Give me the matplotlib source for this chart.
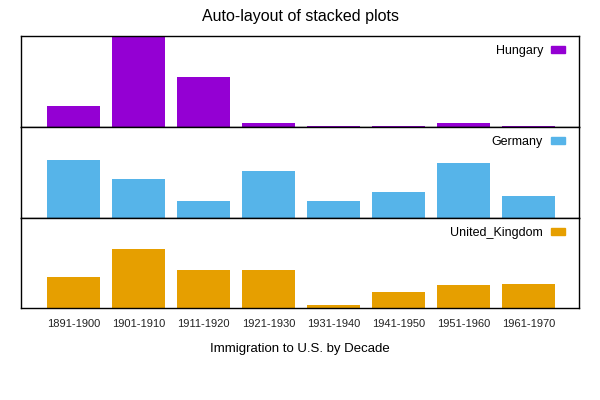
import matplotlib
matplotlib.use("Agg")
import matplotlib.pyplot as plt
from matplotlib.patches import Rectangle

plt.rcParams['font.family'] = ['Liberation Sans', 'DejaVu Sans']

decades = ["1891-1900", "1901-1910", "1911-1920", "1921-1930",
           "1931-1940", "1941-1950", "1951-1960", "1961-1970"]
hungary = [181288, 808511, 442693, 30680, 7861, 3469, 36637, 5401]
germany = [505152, 341498, 143945, 412202, 144058, 226578, 477765, 190796]
united_kingdom = [271538, 525950, 341408, 339570, 31572, 139306, 202824, 213822]

series = [("Hungary", hungary, "#9400D3"),
          ("Germany", germany, "#56B4E9"),
          ("United_Kingdom", united_kingdom, "#E69F00")]

fig = plt.figure(figsize=(6, 4), dpi=100)
W, H = 600, 400
left, right = 21, 579
top, bottom = 36, 308.3
ph = (bottom - top) / 3

x = list(range(len(decades)))
for i, (name, vals, col) in enumerate(series):
    y0 = top + i * ph
    ax = fig.add_axes([left / W, 1 - (y0 + ph) / H, (right - left) / W, ph / H])
    ax.bar(x, vals, width=0.815, color=col, linewidth=0)
    ax.set_xlim(-0.81, 7.77)
    ax.set_ylim(0, 800000)
    ax.set_yticks([])
    for s in ax.spines.values():
        s.set_linewidth(1.0)
        s.set_color("black")
    if i < 2:
        ax.set_xticks([])
    else:
        ax.set_xticks(x)
        ax.set_xticklabels(decades, fontsize=8, color="#222222")
        ax.tick_params(axis='x', length=0, pad=8)
        ax.set_xlabel("Immigration to U.S. by Decade", fontsize=9.5, labelpad=10)
    # legend key (pixel-based placement)
    kc = 13.5
    ax.text((543 - left) / (right - left), 1 - (kc + 4.5) / ph, name,
            transform=ax.transAxes, ha="right", va="baseline", fontsize=9)
    ax.add_patch(Rectangle(((551 - left) / (right - left), 1 - (kc + 3.5) / ph),
                           14 / (right - left), 7 / ph, transform=ax.transAxes,
                           color=col, clip_on=False))

fig.text(0.5, 1 - 17 / H, "Auto-layout of stacked plots", ha="center", va="center",
         fontsize=11.5)

fig.savefig("out.png", dpi=100)
